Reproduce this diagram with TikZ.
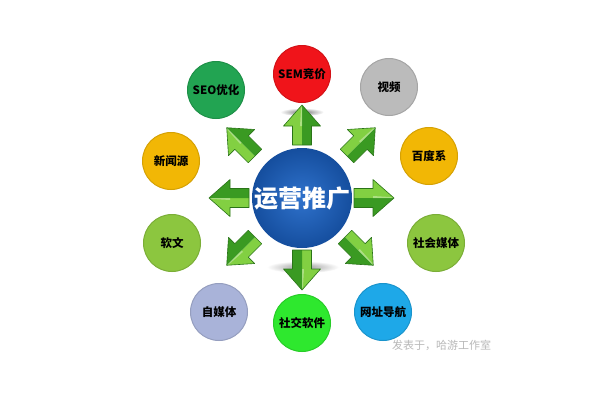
\documentclass[tikz,border=0pt]{standalone}
\usepackage{fontspec}
\newfontfamily\cjk{Noto Sans CJK SC}
\usetikzlibrary{calc}
\definecolor{cseo}{HTML}{22A452}
\definecolor{csem}{HTML}{F0141A}
\definecolor{cvid}{HTML}{BBBBBB}
\definecolor{cyel}{HTML}{F2B705}
\definecolor{clgr}{HTML}{8CC63F}
\definecolor{clav}{HTML}{A9B3D9}
\definecolor{cbgr}{HTML}{2EE82E}
\definecolor{csky}{HTML}{1EA8E8}
\definecolor{hubin}{HTML}{2F72CC}
\definecolor{hubout}{HTML}{154E9E}
\definecolor{arrlight}{HTML}{82D042}
\definecolor{arrdark}{HTML}{3A9A22}
\definecolor{arredge}{HTML}{2A7418}
\tikzset{
  ball/.style={circle, minimum size=57pt, inner sep=0pt,
    font=\cjk\bfseries\fontsize{11.5}{12}\selectfont, text=black,
    fill=#1, draw=#1!88!black, line width=1pt},
  hubball/.style={circle, minimum size=100pt, inner sep=0pt,
    font=\cjk\bfseries\fontsize{24}{24}\selectfont, text=white,
    inner color=hubin, outer color=hubout},
  garrow/.pic={
    \fill[arrlight] (0,-9.5) -- (19,-9.5) -- (19,-18.5) -- (40,0) -- (0,0) -- cycle;
    \fill[arrdark] (0,9.5) -- (19,9.5) -- (19,18.5) -- (40,0) -- (0,0) -- cycle;
    \fill[white, opacity=0.35] (19,-2) -- (36,-1) -- (40,0) -- (19,0) -- cycle;
    \draw[arredge, line width=0.6pt, line join=round]
      (0,-9.5) -- (19,-9.5) -- (19,-18.5) -- (40,0) -- (19,18.5)
      -- (19,9.5) -- (0,9.5) -- cycle;
  },
  wmark/.style={text=black!28, font=\cjk\fontsize{11}{11}\selectfont, anchor=west, inner sep=0pt}
}
\begin{document}
\begin{tikzpicture}[x=1pt,y=-1pt]
\useasboundingbox (0,0) rectangle (600,400);
\fill[white] (0,0) rectangle (600,400);
\coordinate (hubc) at (302,198);
% shadows
\shade[inner color=black!55, outer color=white] (302,112) ellipse (22 and 4);
\shade[inner color=black!40, outer color=white] (303,267) ellipse (36 and 6);
% arrows
\pic[rotate=90] at ($(hubc)+(0,-53)$) {garrow};
\pic[rotate=-90] at ($(hubc)+(0,52)$) {garrow};
\pic[rotate=180] at ($(hubc)+(-53,0)$) {garrow};
\pic[rotate=0] at ($(hubc)+(52,0)$) {garrow};
\pic[rotate=135] at ($(hubc)+(-47,-42)$) {garrow};
\pic[rotate=45] at ($(hubc)+(45,-42)$) {garrow};
\pic[rotate=-135] at ($(hubc)+(-47,39)$) {garrow};
\pic[rotate=-45] at ($(hubc)+(43,39)$) {garrow};
% hub
\node[hubball] (hub) at (hubc) {运营推广};
% outer circles
\node[ball=cseo] (seo) at (216,90) {SEO优化};
\node[ball=csem] (sem) at (302,74) {SEM竞价};
\node[ball=cvid] (vid) at (389,87) {视频};
\node[ball=cyel] (xwy) at (171,161) {新闻源};
\node[ball=cyel] (bdx) at (429,156) {百度系};
\node[ball=clgr] (rw) at (172,243) {软文};
\node[ball=clgr] (shmt) at (436,243) {社会媒体};
\node[ball=clav] (zmt) at (219,312) {自媒体};
\node[ball=cbgr] (sjrj) at (302,323) {社交软件};
\node[ball=csky] (wzdh) at (383,312) {网址导航};
% watermark
\node[wmark] (wm) at (392,345) {发表于，哈游工作室};
\end{tikzpicture}
\end{document}
